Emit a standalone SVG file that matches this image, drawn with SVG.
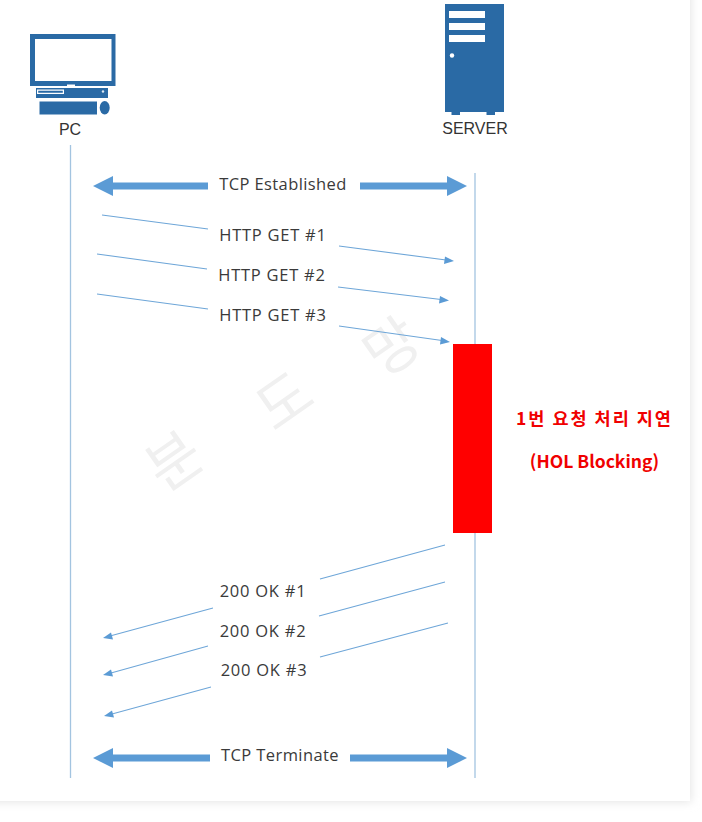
<svg xmlns="http://www.w3.org/2000/svg" width="702" height="822" viewBox="0 0 702 822">
<defs>
<style>
.life{stroke:#a3c4e0;stroke-width:1.3;fill:none}
.msg{stroke:#6ea6d8;stroke-width:1.1;fill:none}
.head{fill:#5b9bd5}
.bar{fill:#5b9bd5}
.lab{font-family:"Open Sans","Noto Sans",sans-serif;font-size:16.5px;letter-spacing:.75px;fill:#3a3a3a;text-anchor:middle}
.tcp{letter-spacing:.4px}
.cap{font-family:"Liberation Sans",sans-serif;font-size:16px;fill:#333;text-anchor:middle}
.red{font-family:"Noto Sans CJK KR","Liberation Sans",sans-serif;font-size:17.5px;font-weight:700;fill:#f00000;text-anchor:middle}
.wm{font-family:"Noto Sans CJK KR",sans-serif;font-size:58px;fill:#f0f0f0;text-anchor:middle}
.ic{fill:#2a6aa5}
</style>
<filter id="sh" x="-5%" y="-5%" width="110%" height="110%"><feGaussianBlur stdDeviation="5"/></filter>
</defs>
<rect width="702" height="822" fill="#fff"/>
<rect x="-20" y="-20" width="711" height="822" fill="#e4e4e4" filter="url(#sh)"/>
<rect x="-20" y="-20" width="710" height="821" fill="#fff"/>
<g id="watermark">
<text class="wm" transform="translate(186 478) rotate(-35)">분</text>
<text class="wm" transform="translate(296 418) rotate(-35)">도</text>
<text class="wm" transform="translate(404 364) rotate(-35)">망</text>
</g>
<g id="pc">
<path class="ic" fill-rule="evenodd" d="M30 34H115.500V86H75V84.500H67V86H30ZM35 39V81H111.500V39Z"/>
<path class="ic" fill-rule="evenodd" d="M36 88H108V98H36ZM37 89.500V94H64V89.500ZM38.200 90.700H62.800V92.800H38.200Z"/>
<rect class="ic" x="39.500" y="101.500" width="57.500" height="13"/>
<ellipse class="ic" cx="104.700" cy="107.700" rx="5" ry="6.700"/>
<circle cx="103" cy="91.500" r="1.200" fill="#dfeaf4"/>
<text class="cap" x="70" y="134.500">PC</text>
</g>
<g id="server">
<rect class="ic" x="445" y="4" width="59" height="108"/>
<rect class="ic" x="451.500" y="111" width="8.500" height="4"/>
<rect class="ic" x="486.500" y="111" width="8.500" height="4"/>
<rect x="449" y="11" width="36" height="7" fill="#fff"/>
<rect x="449" y="23" width="36" height="7" fill="#fff"/>
<rect x="449" y="35" width="36" height="7" fill="#fff"/>
<circle cx="452" cy="55.500" r="2.200" fill="#fff"/>
<text class="cap" x="475" y="133.500">SERVER</text>
</g>
<g id="connectors">
<line class="life" x1="70.500" y1="145" x2="70.500" y2="778"/>
<line class="life" x1="475" y1="173" x2="475" y2="778"/>
<path class="bar" d="M93 186L113 176V182.500H208V189.500H113V196ZM467 186L447 176V182.500H360V189.500H447V196Z"/>
<path class="bar" d="M93 758L113 748V754.500H210V761.500H113V768ZM467 758L447 748V754.500H350V761.500H447V768Z"/>
<path class="msg" d="M102 215L208 229M339 246L446 260"/><path class="head" d="M454 261L445 256.500L444 264Z"/>
<path class="msg" d="M97 254L207 269M338 287L441 299.500"/><path class="head" d="M449 300.500L440 296L439 303.500Z"/>
<path class="msg" d="M97 294L208 309M339 326L442 340.500"/><path class="head" d="M450 342L441 337L440 344.500Z"/>
<path class="msg" d="M445 545L320 579M213 608L110 636"/><path class="head" d="M103 638L111 632.500L113 639.500Z"/>
<path class="msg" d="M445 582L319 616M208 646L111 673"/><path class="head" d="M103 675L111 669.500L113 676.500Z"/>
<path class="msg" d="M448 623L320 657M211 687L112 714"/><path class="head" d="M104 716L112 710.500L114 717.500Z"/>
</g>
<g id="labels">
<text class="lab tcp" x="283" y="190">TCP Established</text>
<text class="lab" x="273" y="241">HTTP GET #1</text>
<text class="lab" x="272" y="281">HTTP GET #2</text>
<text class="lab" x="273" y="321">HTTP GET #3</text>
<text class="lab" x="263" y="597">200 OK #1</text>
<text class="lab" x="263" y="637">200 OK #2</text>
<text class="lab" x="264" y="676">200 OK #3</text>
<text class="lab tcp" x="280" y="761">TCP Terminate</text>
</g>
<g id="blocking">
<rect x="453" y="344" width="39" height="189" fill="#ff0000"/>
<text class="red" x="594.500" y="424.500" style="letter-spacing:2px">1번 요청 처리 지연</text>
<text class="red" x="594.500" y="467.500">(HOL Blocking)</text>
</g>
</svg>
